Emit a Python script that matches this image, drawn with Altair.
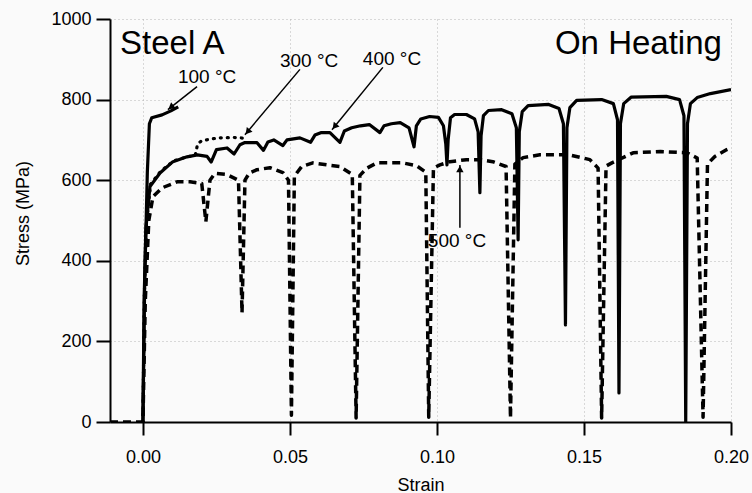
import altair as alt
import pandas as pd

# ---------------- data ----------------
strain_100 = [0.0, 0.0006, 0.0015, 0.0022, 0.0030, 0.0065, 0.0095, 0.0120]
stress_100 = [0, 350, 620, 740, 755, 762, 772, 782]

strain_300 = [0.0, 0.0005, 0.0012, 0.0026, 0.0060, 0.0105, 0.0150, 0.0178, 0.0186, 0.0200,
              0.0255, 0.0310, 0.0350]
stress_300 = [0, 320, 490, 590, 622, 648, 658, 662, 690, 698, 705, 706, 704]

strain_400 = [0.0, 0.0004, 0.0010, 0.0024, 0.0058, 0.0102, 0.0150, 0.0185, 0.0218, 0.0232,
              0.0250, 0.0286, 0.0310, 0.0330, 0.0345, 0.0388, 0.0410, 0.0425, 0.0445, 0.0476,
              0.0490, 0.0534, 0.0570, 0.0585, 0.0605, 0.0636, 0.0670, 0.0685, 0.0710, 0.0740,
              0.0770, 0.0806, 0.0820, 0.0845, 0.0875, 0.0905, 0.0922, 0.0930, 0.0945, 0.0975,
              0.1005, 0.1022, 0.1030, 0.1034, 0.1038, 0.1046, 0.1060, 0.1100, 0.1128, 0.1140,
              0.1146, 0.1150, 0.1158, 0.1175, 0.1220, 0.1255, 0.1270, 0.1276, 0.1280, 0.1290,
              0.1310, 0.1380, 0.1415, 0.1430, 0.1437, 0.1442, 0.1452, 0.1475, 0.1560, 0.1600,
              0.1614, 0.1619, 0.1624, 0.1635, 0.1660, 0.1780, 0.1825, 0.1840, 0.1846, 0.1852,
              0.1862, 0.1885, 0.1930, 0.2000]
stress_400 = [0, 300, 480, 584, 618, 646, 658, 663, 659, 645,
              676, 680, 665, 688, 693, 693, 674, 695, 700, 686,
              700, 705, 694, 712, 718, 718, 694, 722, 730, 735,
              738, 718, 735, 740, 743, 730, 683, 735, 752, 758,
              756, 735, 690, 638, 700, 755, 763, 763, 752, 720,
              569, 710, 760, 773, 775, 765, 730, 452, 720, 770,
              785, 788, 778, 740, 241, 730, 780, 798, 800, 790,
              750, 72, 740, 790, 806, 808, 800, 760, 0, 740,
              790, 805, 815, 825]

strain_500 = [-0.0112, 0.0, 0.0008, 0.0020, 0.0034, 0.0065, 0.0116, 0.0160, 0.0200, 0.0214,
              0.0228, 0.0245, 0.0286, 0.0325, 0.0337, 0.0347, 0.0362, 0.0388, 0.0432, 0.0476,
              0.0495, 0.0505, 0.0515, 0.0540, 0.0578, 0.0626, 0.0670, 0.0712, 0.0725, 0.0738,
              0.0762, 0.0796, 0.0884, 0.0930, 0.0962, 0.0972, 0.0988, 0.1010, 0.1044, 0.1100,
              0.1146, 0.1190, 0.1235, 0.1250, 0.1265, 0.1293, 0.1350, 0.1450, 0.1520, 0.1548,
              0.1560, 0.1575, 0.1595, 0.1667, 0.1760, 0.1850, 0.1885, 0.1905, 0.1920, 0.1945,
              0.1986, 0.2000]
stress_500 = [0, 0, 300, 500, 559, 581, 596, 596, 592, 497,
              600, 617, 614, 600, 271, 600, 618, 626, 631, 619,
              600, 17, 610, 634, 643, 638, 634, 614, 10, 612,
              630, 643, 643, 636, 620, 12, 630, 638, 646, 651,
              651, 646, 634, 10, 640, 656, 663, 663, 651, 630,
              10, 635, 643, 668, 671, 668, 655, 12, 640, 659,
              676, 680]

# annotation texts (left edge / baseline positions in data units)
label_text = ["Steel A", "On Heating", "100 \u00b0C", "300 \u00b0C", "400 \u00b0C", "500 \u00b0C"]
label_x = [-0.0078, 0.1969, 0.0119, 0.0466, 0.0748, 0.0969]
label_y = [912, 912, 842, 880, 887, 435]
label_align = ["left", "right", "left", "left", "left", "left"]
label_size = [33, 33, 19, 19, 19, 19]

# leader arrows: start -> tip
arrow_x = [0.0184, 0.0534, 0.0816, 0.1078]
arrow_y = [832, 875, 880, 482]
arrow_x2 = [0.0085, 0.0347, 0.0643, 0.1078]
arrow_y2 = [775, 713, 725, 638]
head_x = [0.0095, 0.0356, 0.0652, 0.1078]
head_y = [781, 720, 733, 628]
head_angle = [232, 220, 219, 0]

x_ticks = [0.0, 0.05, 0.10, 0.15, 0.20]
y_ticks = [0, 200, 400, 600, 800, 1000]

FONT = "Liberation Sans"


def frame(s, t):
    return pd.DataFrame({"strain": s, "stress": t, "i": list(range(len(s)))})


x_scale = alt.Scale(domain=[-0.0112, 0.2], nice=False, zero=False)
y_scale = alt.Scale(domain=[0, 1000], nice=False)

x_axis = alt.Axis(values=x_ticks, format=".2f", title="Strain", grid=True,
                  gridColor="#b0b0b0", gridDash=[1, 3], gridOpacity=0.9, gridWidth=1,
                  domainColor="black", domainWidth=2, tickColor="black", tickWidth=2,
                  tickSize=13, labelPadding=13, labelFontSize=18, labelColor="black",
                  labelFont=FONT, titleFont=FONT, titleFontSize=18, titleFontWeight="normal",
                  titleColor="black", titleY=63, titleBaseline="middle", labelFlush=False)
y_axis = alt.Axis(values=y_ticks, format="d", title="Stress (MPa)", grid=True,
                  gridColor="#b0b0b0", gridDash=[1, 3], gridOpacity=0.9, gridWidth=1,
                  domainColor="black", domainWidth=2, tickColor="black", tickWidth=2,
                  tickSize=14, labelPadding=5, labelFontSize=18, labelColor="black",
                  labelFont=FONT, titleFont=FONT, titleFontSize=18, titleFontWeight="normal",
                  titleColor="black", titleX=-87, titleY=194, titleAngle=270,
                  titleAlign="center", titleBaseline="middle", labelFlush=False)

X = alt.X("strain:Q", scale=x_scale, axis=x_axis)
Y = alt.Y("stress:Q", scale=y_scale, axis=y_axis)


def curve(s, t, dash, width=3):
    kw = dict(color="black", strokeWidth=width, strokeJoin="round", clip=True)
    if dash:
        kw["strokeDash"] = dash
    return alt.Chart(frame(s, t)).mark_line(**kw).encode(x=X, y=Y, order="i:Q")


c500 = curve(strain_500, stress_500, [8, 5], 3.5)
c400 = curve(strain_400, stress_400, None, 3.2)
c300 = alt.Chart(frame(strain_300, stress_300)).mark_line(
    color="black", strokeWidth=3.2, strokeDash=[1, 6], strokeCap="round", clip=True
).encode(x=X, y=Y, order="i:Q")
c100 = curve(strain_100, stress_100, None, 3.2)

labels_df = pd.DataFrame({"strain": label_x, "stress": label_y, "text": label_text,
                          "align": label_align, "size": label_size})
texts = []
for al in ["left", "right"]:
    for sz in sorted(set(label_size)):
        sub = labels_df[(labels_df["align"] == al) & (labels_df["size"] == sz)]
        if len(sub):
            texts.append(alt.Chart(sub).mark_text(align=al, baseline="alphabetic",
                                                  font=FONT, fontSize=sz, color="black")
                         .encode(x=X, y=Y, text="text:N"))

arrows_df = pd.DataFrame({"strain": arrow_x, "stress": arrow_y, "x2": arrow_x2, "y2": arrow_y2})
arrows = alt.Chart(arrows_df).mark_rule(color="black", strokeWidth=1.5).encode(
    x=X, y=Y, x2="x2:Q", y2="y2:Q")

heads_df = pd.DataFrame({"strain": head_x, "stress": head_y, "angle": head_angle})
heads = alt.Chart(heads_df).mark_point(shape="triangle-up", filled=True, size=55,
                                       color="black", opacity=1).encode(
    x=X, y=Y, angle=alt.Angle("angle:Q", scale=None))

chart = alt.layer(c500, c400, c300, c100, arrows, heads, *texts).properties(
    width=621, height=403,
    padding={"left": 110, "top": 19, "right": 21, "bottom": 71},
    autosize=alt.AutoSizeParams(type="none"),
    background="#fafafa",
).configure_view(stroke=None)

chart.save("out.html", embed_options={"renderer": "svg", "actions": False})
